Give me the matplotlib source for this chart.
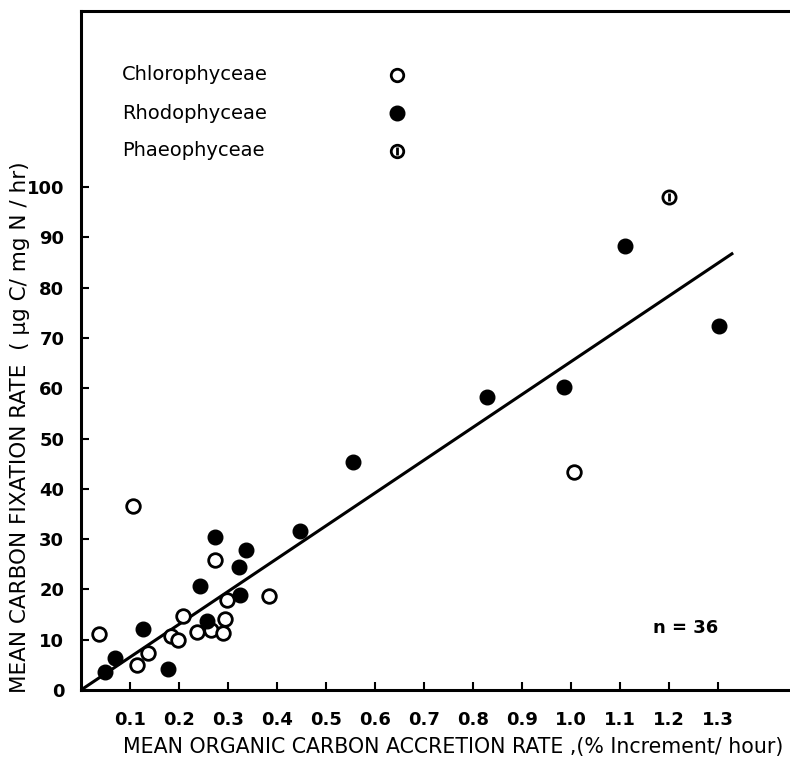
import matplotlib
matplotlib.use('Agg')
import matplotlib.pyplot as plt

# Chlorophyceae (open circles)
chloro_x = [0.037, 0.106, 0.115, 0.137, 0.183, 0.199, 0.208, 0.236, 0.265,
            0.289, 0.294, 0.299, 0.274, 0.384, 1.006]
chloro_y = [11.1, 36.6, 5.0, 7.4, 10.7, 9.9, 14.7, 11.6, 11.9,
            11.3, 14.1, 17.9, 25.8, 18.7, 43.4]

# Rhodophyceae (filled circles)
rhodo_x = [0.049, 0.069, 0.127, 0.178, 0.243, 0.258, 0.274, 0.323, 0.324,
           0.337, 0.446, 0.556, 0.828, 0.986, 1.110, 1.302]
rhodo_y = [3.6, 6.3, 12.1, 4.1, 20.7, 13.8, 30.4, 24.5, 18.9,
           27.8, 31.7, 45.4, 58.2, 60.2, 88.3, 72.4]

# Phaeophyceae (barred circle)
phaeo_x = [1.20]
phaeo_y = [98.1]

# fitted line end points
fit_x = [0.0, 1.331]
fit_y = [0.0, 86.9]

x_ticks = [0.1, 0.2, 0.3, 0.4, 0.5, 0.6, 0.7, 0.8, 0.9, 1.0, 1.1, 1.2, 1.3]
x_labels = ['0.1', '0.2', '0.3', '0.4', '0.5', '0.6', '0.7', '0.8', '0.9',
            '1.0', '1.1', '1.2', '1.3']
y_ticks = [0, 10, 20, 30, 40, 50, 60, 70, 80, 90, 100]

fig = plt.figure(figsize=(7.9, 7.66), dpi=100)
ax = fig.add_axes([0.1025, 0.0992, 0.8975, 0.8864])
ax.set_xlim(0, 1.447)
ax.set_ylim(0, 135)

ax.plot(fit_x, fit_y, color='black', lw=2.2, solid_capstyle='butt')

ax.plot(chloro_x, chloro_y, 'o', ms=9.8, mfc='white', mec='black', mew=2.0,
        linestyle='none')
ax.plot(rhodo_x, rhodo_y, 'o', ms=10.5, mfc='black', mec='black',
        linestyle='none')
ax.plot(phaeo_x, phaeo_y, 'o', ms=9.5, mfc='white', mec='black', mew=2.0,
        linestyle='none')
ax.plot(phaeo_x, phaeo_y, '|', ms=6, mec='black', mew=2.0, linestyle='none')

# legend drawn by hand
leg_names = ['Chlorophyceae', 'Rhodophyceae', 'Phaeophyceae']
leg_y = [122.3, 114.7, 107.2]
for name, yy in zip(leg_names, leg_y):
    ax.text(0.084, yy, name, fontsize=14, va='center', ha='left')
ax.plot(0.645, leg_y[0], 'o', ms=9, mfc='white', mec='black', mew=2.0)
ax.plot(0.645, leg_y[1], 'o', ms=10.5, mfc='black', mec='black')
ax.plot(0.645, leg_y[2], 'o', ms=9, mfc='white', mec='black', mew=2.0)
ax.plot(0.645, leg_y[2], '|', ms=6, mec='black', mew=2.0)

ax.text(1.235, 12.3, 'n = 36', fontsize=13, fontweight='bold',
        ha='center', va='center')

ax.set_xticks(x_ticks)
ax.set_xticklabels(x_labels)
ax.set_yticks(y_ticks)
ax.tick_params(direction='in', length=6, width=1.5, labelsize=13)
ax.tick_params(axis='x', pad=15)
ax.tick_params(axis='y', pad=12)
for lab in ax.get_xticklabels() + ax.get_yticklabels():
    lab.set_fontweight('bold')

for side in ['left', 'top', 'bottom']:
    ax.spines[side].set_linewidth(2.2)
ax.spines['right'].set_visible(False)

ax.set_xlabel('MEAN ORGANIC CARBON ACCRETION RATE ,(% Increment/ hour)',
              fontsize=14.8)
ax.xaxis.set_label_coords(0.525, -0.069)
ax.set_ylabel('MEAN CARBON FIXATION RATE  ( \u00b5g C/ mg N / hr)',
              fontsize=15.5)
ax.yaxis.set_label_coords(-0.072, 0.387)

plt.savefig('out.png', dpi=100)
plt.close()
